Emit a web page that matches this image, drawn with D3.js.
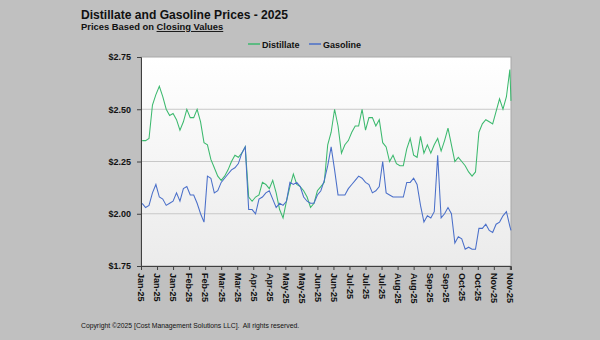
<!DOCTYPE html>
<html>
<head>
<meta charset="utf-8">
<script src="https://cdn.jsdelivr.net/npm/d3@7"></script>
<style>
  body { margin: 0; background: #c0c0c0; }
  svg { display: block; font-family: "Liberation Sans", Arial, sans-serif; }
</style>
</head>
<body>
<svg id="chart" width="600" height="340"></svg>
<script>
// sample dates (roughly every 3 days)
const dates = [
  "2025-01-02","2025-01-05","2025-01-08","2025-01-11","2025-01-14","2025-01-17","2025-01-20","2025-01-23","2025-01-26","2025-01-29",
  "2025-02-01","2025-02-04","2025-02-07","2025-02-10","2025-02-13","2025-02-16","2025-02-19","2025-02-22","2025-02-25","2025-02-28",
  "2025-03-03","2025-03-06","2025-03-09","2025-03-12","2025-03-15","2025-03-18","2025-03-21","2025-03-24","2025-03-27","2025-03-30",
  "2025-04-02","2025-04-05","2025-04-08","2025-04-11","2025-04-14","2025-04-17","2025-04-20","2025-04-23","2025-04-26","2025-04-29",
  "2025-05-02","2025-05-05","2025-05-08","2025-05-11","2025-05-14","2025-05-17","2025-05-20","2025-05-23","2025-05-26","2025-05-29",
  "2025-06-01","2025-06-04","2025-06-07","2025-06-10","2025-06-13","2025-06-16","2025-06-19","2025-06-22","2025-06-25","2025-06-28",
  "2025-07-01","2025-07-04","2025-07-07","2025-07-10","2025-07-13","2025-07-16","2025-07-19","2025-07-22","2025-07-25","2025-07-28",
  "2025-07-31","2025-08-03","2025-08-06","2025-08-09","2025-08-12","2025-08-15","2025-08-18","2025-08-21","2025-08-24","2025-08-27",
  "2025-08-30","2025-09-02","2025-09-05","2025-09-08","2025-09-11","2025-09-14","2025-09-17","2025-09-20","2025-09-23","2025-09-26",
  "2025-09-29","2025-10-02","2025-10-05","2025-10-08","2025-10-11","2025-10-14","2025-10-17","2025-10-20","2025-10-23","2025-10-26",
  "2025-10-29","2025-11-01","2025-11-04","2025-11-07","2025-11-10","2025-11-13","2025-11-16","2025-11-19","2025-11-20"
];

const distillate = [
  2.35,2.35,2.36,2.52,2.57,2.61,2.56,2.50,2.47,2.48,
  2.45,2.40,2.44,2.50,2.46,2.46,2.50,2.44,2.34,2.33,
  2.26,2.22,2.18,2.16,2.18,2.21,2.25,2.28,2.27,2.29,
  2.32,2.08,2.06,2.08,2.09,2.15,2.14,2.12,2.16,2.10,
  2.02,1.98,2.06,2.13,2.19,2.14,2.13,2.11,2.08,2.03,
  2.05,2.11,2.13,2.15,2.33,2.39,2.50,2.42,2.29,2.33,
  2.35,2.39,2.42,2.42,2.50,2.40,2.46,2.46,2.42,2.45,
  2.34,2.32,2.25,2.28,2.24,2.23,2.23,2.31,2.36,2.28,
  2.27,2.37,2.29,2.33,2.29,2.33,2.36,2.30,2.35,2.41,
  2.33,2.25,2.27,2.25,2.23,2.20,2.18,2.20,2.39,2.43,
  2.45,2.44,2.43,2.49,2.55,2.50,2.56,2.69,2.54
];

const gasoline = [
  2.05,2.03,2.04,2.10,2.14,2.08,2.07,2.04,2.05,2.06,
  2.10,2.06,2.12,2.13,2.09,2.09,2.05,2.00,1.96,2.18,
  2.17,2.10,2.11,2.15,2.17,2.19,2.21,2.22,2.24,2.29,
  2.32,2.02,2.02,2.00,2.07,2.08,2.10,2.11,2.07,2.03,
  2.05,2.04,2.06,2.15,2.14,2.15,2.13,2.08,2.06,2.05,
  2.05,2.09,2.11,2.16,2.23,2.32,2.21,2.09,2.09,2.09,
  2.12,2.14,2.16,2.18,2.17,2.15,2.14,2.10,2.11,2.13,
  2.25,2.10,2.09,2.08,2.08,2.08,2.08,2.15,2.15,2.17,
  2.14,2.04,1.96,1.99,1.98,2.01,2.28,1.98,2.00,2.03,
  2.00,1.86,1.89,1.88,1.83,1.84,1.83,1.83,1.93,1.93,
  1.95,1.92,1.91,1.95,1.96,1.99,2.01,1.94,1.92
];

const yTicks = [1.75, 2.00, 2.25, 2.50, 2.75];
// x tick dates, every two weeks
const xTickDates = [
  "2025-01-01","2025-01-15","2025-01-29","2025-02-12","2025-02-26","2025-03-12","2025-03-26","2025-04-09",
  "2025-04-23","2025-05-07","2025-05-21","2025-06-04","2025-06-18","2025-07-02","2025-07-16","2025-07-30",
  "2025-08-13","2025-08-27","2025-09-10","2025-09-24","2025-10-08","2025-10-22","2025-11-05","2025-11-19"
];
const seriesNames = ["Distillate", "Gasoline"];
const seriesColors = ["#3cb96e", "#4a6fc9"];

const parse = d3.timeParse("%Y-%m-%d");
const rows = dates.map((d, i) => ({ date: parse(d), dist: distillate[i], gas: gasoline[i] }));

const svg = d3.select("#chart");
const plotLeft = 141, plotRight = 511, plotTop = 57, plotBottom = 266;

const x = d3.scaleTime()
  .domain([parse("2025-01-01"), parse("2025-11-20")])
  .range([plotLeft, plotRight]);
const y = d3.scaleLinear()
  .domain([1.75, 2.75])
  .range([plotBottom, plotTop]);

// plot background gradient
const grad = svg.append("defs").append("linearGradient")
  .attr("id", "bg").attr("x1", 0).attr("y1", 0).attr("x2", 0).attr("y2", 1);
grad.append("stop").attr("offset", "0%").attr("stop-color", "#ffffff");
grad.append("stop").attr("offset", "100%").attr("stop-color", "#ebebeb");

svg.append("rect")
  .attr("x", plotLeft).attr("y", plotTop)
  .attr("width", plotRight - plotLeft).attr("height", plotBottom - plotTop)
  .attr("fill", "url(#bg)")
  .attr("stroke", "#a8a8a8").attr("stroke-width", 1);

// gridlines
svg.append("g")
  .selectAll("line")
  .data(yTicks.slice(1, -1))
  .join("line")
    .attr("x1", plotLeft).attr("x2", plotRight)
    .attr("y1", d => y(d)).attr("y2", d => y(d))
    .attr("stroke", "#c8c8c8").attr("stroke-width", 1);

// lines
const lineDist = d3.line().x(d => x(d.date)).y(d => y(d.dist));
const lineGas = d3.line().x(d => x(d.date)).y(d => y(d.gas));

svg.append("path").datum(rows)
  .attr("d", lineDist)
  .attr("fill", "none").attr("stroke", seriesColors[0]).attr("stroke-width", 1.05);
svg.append("path").datum(rows)
  .attr("d", lineGas)
  .attr("fill", "none").attr("stroke", seriesColors[1]).attr("stroke-width", 1.05);

// y axis
const yAxis = svg.append("g")
  .attr("transform", "translate(" + plotLeft + ",0)")
  .call(d3.axisLeft(y).tickValues(yTicks).tickSize(4).tickPadding(6).tickFormat(d => "$" + d.toFixed(2)));
yAxis.selectAll("text").attr("font-size", 9).attr("font-weight", "bold").attr("fill", "#111")
  .attr("font-family", "Liberation Sans, Arial, sans-serif");

// x axis
const xAxis = svg.append("g")
  .attr("transform", "translate(0," + plotBottom + ")")
  .call(d3.axisBottom(x).tickValues(xTickDates.map(parse)).tickSize(4).tickFormat(d3.timeFormat("%b-%y")));
xAxis.selectAll("text")
  .attr("font-size", 9).attr("font-weight", "bold").attr("fill", "#111")
  .attr("font-family", "Liberation Sans, Arial, sans-serif")
  .attr("text-anchor", "start")
  .attr("transform", "rotate(90)")
  .attr("x", 7).attr("y", 0).attr("dy", "0.35em");

svg.selectAll(".domain, .tick line").attr("stroke", "#404040");

// titles
svg.append("text").text("Distillate and Gasoline Prices - 2025")
  .attr("x", 81).attr("y", 18.5)
  .attr("font-size", 12.1).attr("font-weight", "bold").attr("fill", "#111");

const sub = svg.append("text").attr("x", 81).attr("y", 30)
  .attr("font-size", 9.4).attr("font-weight", "bold").attr("fill", "#111");
sub.append("tspan").text("Prices Based on ");
sub.append("tspan").text("Closing Values").attr("text-decoration", "underline");

// legend
const legend = svg.append("g");
const legendX = [248, 309];
seriesNames.forEach((name, i) => {
  legend.append("line")
    .attr("x1", legendX[i]).attr("x2", legendX[i] + 12)
    .attr("y1", 44).attr("y2", 44)
    .attr("stroke", seriesColors[i]).attr("stroke-width", 1.5);
  legend.append("text").text(name)
    .attr("x", legendX[i] + 14).attr("y", 47.5)
    .attr("font-size", 9).attr("font-weight", "bold").attr("fill", "#111");
});

// copyright
svg.append("text").text("Copyright \u00a92025 [Cost Management Solutions LLC].  All rights reserved.")
  .attr("x", 81).attr("y", 328)
  .attr("font-size", 6.8).attr("fill", "#111")
  .attr("xml:space", "preserve");
</script>
</body>
</html>
